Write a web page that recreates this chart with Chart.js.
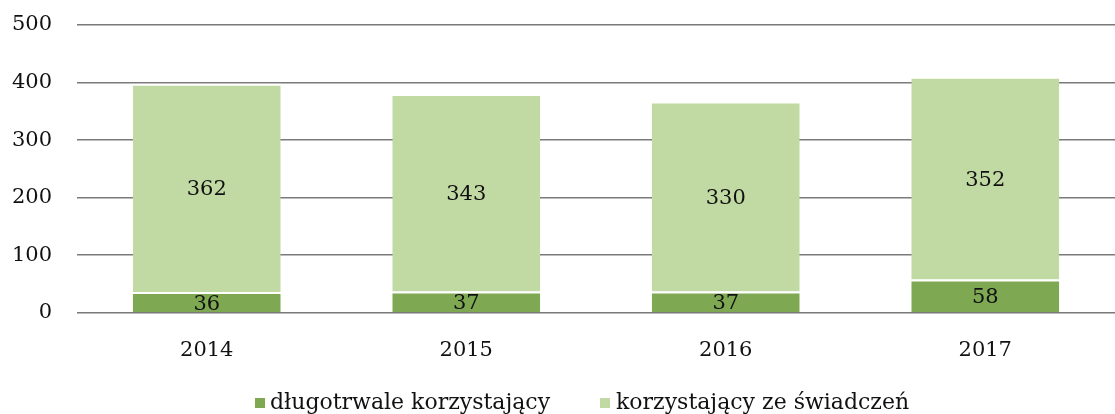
<!DOCTYPE html>
<html>
<head>
<meta charset="utf-8">
<script src="https://cdn.jsdelivr.net/npm/chart.js@4"></script>
<style>
  html, body { margin: 0; padding: 0; background: #fff; }
  #wrap { width: 1115px; height: 414px; }
</style>
</head>
<body>
<div id="wrap"><canvas id="myChart"></canvas></div>
<script>
const years = ["2014", "2015", "2016", "2017"];
const longTerm = [36, 37, 37, 58];
const benefits = [362, 343, 330, 352];
const seriesNames = ["długotrwale korzystający", "korzystający ze świadczeń"];

const font = "'DejaVu Serif', 'Liberation Serif', serif";
const colors = ["#7ea952", "#c1d9a2"];

// labels drawn in the middle of every segment
const segmentLabels = {
  id: "segmentLabels",
  afterDatasetsDraw(chart) {
    const ctx = chart.ctx;
    ctx.save();
    ctx.fillStyle = "#111";
    ctx.font = "21px " + font;
    ctx.textAlign = "center";
    ctx.textBaseline = "middle";
    chart.data.datasets.forEach((ds, i) => {
      chart.getDatasetMeta(i).data.forEach((bar, j) => {
        const y = (bar.y + bar.base) / 2;
        ctx.fillText(ds.data[j], bar.x, y + 2);
      });
    });
    ctx.restore();
  },
};

// legend under the axis, spaced like the original
const bottomLegend = {
  id: "bottomLegend",
  afterDraw(chart) {
    const ctx = chart.ctx;
    const y = 403;
    const items = [
      { box: 255, text: 270 },
      { box: 600, text: 616 },
    ];
    ctx.save();
    ctx.font = "22px " + font;
    ctx.textBaseline = "middle";
    ctx.textAlign = "left";
    chart.data.datasets.forEach((ds, i) => {
      ctx.fillStyle = ds.backgroundColor;
      ctx.fillRect(items[i].box, y - 5, 10, 10);
      ctx.fillStyle = "#111";
      ctx.fillText(ds.label, items[i].text, y);
    });
    ctx.restore();
  },
};

const ctx = document.getElementById("myChart").getContext("2d");
const chart = new Chart(ctx, {
  type: "bar",
  data: {
    labels: years,
    datasets: [
      {
        label: seriesNames[0],
        data: longTerm,
        backgroundColor: colors[0],
        borderColor: "#ffffff",
        borderWidth: { top: 2 },
        borderSkipped: false,
      },
      {
        label: seriesNames[1],
        data: benefits,
        backgroundColor: colors[1],
        borderColor: "#ffffff",
        borderWidth: { top: 2 },
        borderSkipped: false,
      },
    ],
  },
  options: {
    responsive: true,
    maintainAspectRatio: false,
    animation: false,
    barPercentage: 0.57,
    categoryPercentage: 1,
    layout: { padding: { top: 0, right: 0, left: 0, bottom: 34 } },
    scales: {
      x: {
        stacked: true,
        grid: { display: false },
        border: { display: false },
        ticks: { color: "#111", font: { family: font, size: 21 }, padding: 17 },
      },
      y: {
        stacked: true,
        min: 0,
        max: 500,
        afterFit(scale) {
          scale.width = 77;
          scale.paddingTop = 25;
          scale.paddingBottom = 0;
        },
        ticks: { stepSize: 100, color: "#111", font: { family: font, size: 21 }, padding: 25 },
        grid: { color: "#7a7a7a", lineWidth: 1.5, drawTicks: false },
        border: { display: false },
      },
    },
    plugins: {
      legend: { display: false },
      tooltip: { enabled: false },
    },
  },
  plugins: [segmentLabels, bottomLegend],
});
</script>
</body>
</html>
